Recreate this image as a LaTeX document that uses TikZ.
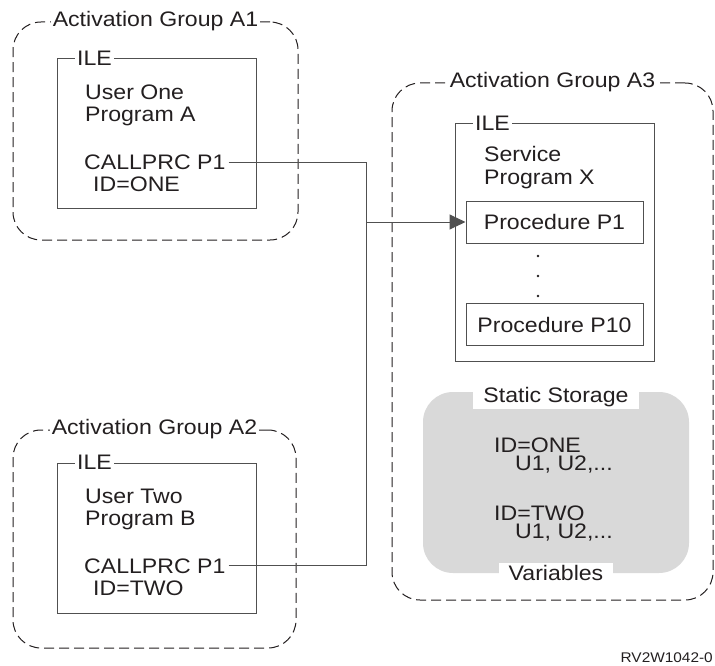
\documentclass[tikz,border=0pt]{standalone}
\usepackage{fontspec}
\setmainfont{Liberation Sans}[FakeStretch=1.1]
\definecolor{inkgray}{HTML}{231F20}
\definecolor{linegray}{HTML}{505050}
\definecolor{storegray}{HTML}{D9D9D9}
\usetikzlibrary{arrows.meta,positioning}

\begin{document}
\begin{tikzpicture}[
  x=1pt, y=-1pt,
  every node/.style={text=inkgray, font=\fontsize{21}{22}\selectfont},
  group/.style={rectangle, draw=inkgray, line width=1pt, dash pattern=on 10pt off 5pt, rounded corners=28pt, inner sep=0pt},
  ile/.style={rectangle, draw=linegray, line width=1pt, inner sep=0pt},
  proc/.style={rectangle, draw=linegray, line width=1pt, minimum width=177pt, minimum height=42pt, inner sep=0pt},
  tag/.style={fill=white, inner sep=2pt},
  txt/.style={anchor=base west, inner sep=0pt},
  wire/.style={draw=linegray, line width=1pt},
]
\useasboundingbox (0,0) rectangle (715,666);

% activation groups
\node[group, minimum width=285pt, minimum height=218pt] (grpA) at (155.5,131) {};
\node[group, minimum width=283pt, minimum height=218pt] (grpB) at (154.5,539) {};
\node[group, minimum width=321pt, minimum height=517pt] (grpC) at (552.5,341.5) {};
\node[tag] at (grpA.north) {Activation Group A1};
\node[tag] at (grpB.north) {Activation Group A2};
\node[tag] at (grpC.north) {Activation Group A3};

% ILE programs
\node[ile, minimum width=199pt, minimum height=149pt] (ileA) at (156.5,133.5) {};
\node[ile, minimum width=199pt, minimum height=150pt] (ileB) at (156.5,538) {};
\node[ile, minimum width=199pt, minimum height=237pt] (ileC) at (554.5,242.5) {};
\node[tag] at ([xshift=38pt]ileA.north west) {ILE};
\node[tag] at ([xshift=38pt]ileB.north west) {ILE};
\node[tag] at ([xshift=38pt]ileC.north west) {ILE};

\node[txt] at (85,100) {User One};
\node[txt] at (85,122) {Program A};
\node[txt] (callA) at (84,170) {CALLPRC P1};
\node[txt] at (93,192) {ID=ONE};

\node[txt] at (85,503) {User Two};
\node[txt] at (85,525) {Program B};
\node[txt] (callB) at (84,573) {CALLPRC P1};
\node[txt] at (93,595) {ID=TWO};

\node[txt] at (484,162) {Service};
\node[txt] at (484,184) {Program X};

% procedures
\node[proc] (p1) at (554.5,222) {Procedure P1};
\node[proc] (p10) at (554.5,324.5) {Procedure P10};
\foreach \y in {256,276,296}
  \fill[inkgray] (538,\y) circle (1.3pt);

% static storage
\node[rectangle, fill=storegray, rounded corners=30pt, minimum width=266pt, minimum height=181pt] (store) at (556,482.5) {};
\node[tag, inner xsep=10pt] at ([yshift=-5pt]store.north) {Static Storage};
\node[tag, inner xsep=10pt] at (store.south) {Variables};
\node[txt] at (494,452) {ID=ONE};
\node[txt] at (515,470) {U1, U2,...};
\node[txt] at (494,520) {ID=TWO};
\node[txt] at (515,538) {U1, U2,...};

% calls
\path (p1.west) ++(-99pt,0) coordinate (jct);
\draw[wire] ([xshift=3pt]callA.east) -| (jct);
\draw[wire] ([xshift=3pt]callB.east) -| (jct);
\draw[wire, -{Triangle[length=16pt,width=15pt]}] (jct) -- (p1.west);

\node[anchor=base east, inner sep=0pt, font=\fontsize{14}{16}\selectfont] (ref) at (713,662) {RV2W1042-0};
\end{tikzpicture}
\end{document}
